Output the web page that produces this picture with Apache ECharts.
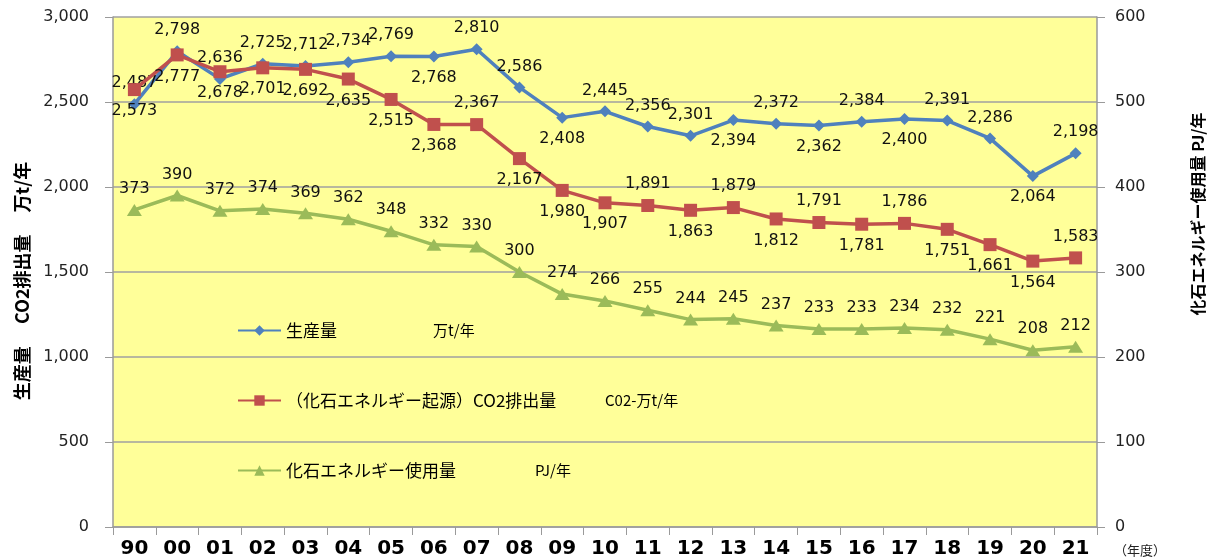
<!DOCTYPE html>
<html>
<head>
<meta charset="utf-8">
<script src="https://cdn.jsdelivr.net/npm/echarts@6/dist/echarts.min.js"></script>
<style>
  html, body { margin: 0; padding: 0; background: #fff; }
  #chart { width: 1213px; height: 560px; }
</style>
</head>
<body>
<div id="chart"></div>
<script>
// 年度
var years = ['90', '00', '01', '02', '03', '04', '05', '06', '07', '08', '09', '10',
  '11', '12', '13', '14', '15', '16', '17', '18', '19', '20', '21'];

// 生産量 万t/年
var production = [2487, 2798, 2636, 2725, 2712, 2734, 2769, 2768, 2810, 2586, 2408, 2445,
  2356, 2301, 2394, 2372, 2362, 2384, 2400, 2391, 2286, 2064, 2198];

// （化石エネルギー起源）CO2排出量 万t/年
var co2 = [2573, 2777, 2678, 2701, 2692, 2635, 2515, 2368, 2367, 2167, 1980, 1907,
  1891, 1863, 1879, 1812, 1791, 1781, 1786, 1751, 1661, 1564, 1583];

// 化石エネルギー使用量 PJ/年
var energy = [373, 390, 372, 374, 369, 362, 348, 332, 330, 300, 274, 266,
  255, 244, 245, 237, 233, 233, 234, 232, 221, 208, 212];

var seriesNames = ['生産量', '（化石エネルギー起源）CO2排出量', '化石エネルギー使用量'];
var seriesUnits = ['万t/年', 'C02-万t/年', 'PJ/年'];

var leftTicks = [0, 500, 1000, 1500, 2000, 2500, 3000];
var rightTicks = [0, 100, 200, 300, 400, 500, 600];

// ラベルの上下 (t=上, b=下)
var prodLabelPos = 'tttttttbttbtttbtbtbttbt';
var co2LabelPos = 'bbbbbbbbtbbbtbtbtbtbbbt';

var colors = ['#4F81BD', '#C0504D', '#9BBB59'];
var labelFont = 'DejaVu Sans, Verdana, sans-serif';
var jpFont = 'Noto Sans CJK JP, sans-serif';

function withLabelPos(values, pos) {
  return values.map(function (v, i) {
    return { value: v, label: { position: pos.charAt(i) === 't' ? 'top' : 'bottom' } };
  });
}

function fmtNum(p) {
  return p.value.toLocaleString('en-US');
}

var chart = echarts.init(document.getElementById('chart'));

var legendRich = {
  n0: { width: 147, fontSize: 17, fontFamily: jpFont, color: '#000' },
  n1: { width: 319, fontSize: 17, fontFamily: jpFont, color: '#000' },
  n2: { width: 249, fontSize: 17, fontFamily: jpFont, color: '#000' },
  u: { fontSize: 15, fontFamily: jpFont, color: '#000' }
};

function legendAt(idx, top) {
  return {
    data: [seriesNames[idx]],
    left: 232,
    top: top,
    itemWidth: 43,
    itemHeight: 13,
    selectedMode: false,
    formatter: function (name) {
      return '{n' + idx + '|' + name + '}{u|' + seriesUnits[idx] + '}';
    },
    textStyle: { rich: legendRich }
  };
}

var lineLabel = {
  show: true,
  distance: 7,
  fontSize: 16,
  fontFamily: labelFont,
  color: '#111'
};

var option = {
  animation: false,
  color: colors,
  grid: {
    left: 113,
    right: 116,
    top: 17,
    bottom: 33,
    show: true,
    backgroundColor: '#FFFF99',
    borderWidth: 0
  },
  legend: [legendAt(0, 317), legendAt(1, 387), legendAt(2, 457)],
  xAxis: {
    type: 'category',
    data: years,
    boundaryGap: true,
    axisLine: { lineStyle: { color: '#9a9a9a', width: 1.5 } },
    axisTick: { show: true, length: 8, lineStyle: { color: '#9a9a9a' } },
    axisLabel: {
      margin: 12,
      fontSize: 20,
      fontWeight: 'bold',
      fontFamily: 'DejaVu Sans, Verdana, sans-serif',
      color: '#000'
    }
  },
  yAxis: [
    {
      type: 'value',
      min: leftTicks[0],
      max: leftTicks[leftTicks.length - 1],
      interval: leftTicks[1] - leftTicks[0],
      position: 'left',
      axisLine: { show: true, lineStyle: { color: '#9a9a9a', width: 1.5 } },
      axisTick: { show: true, length: 8, lineStyle: { color: '#9a9a9a' } },
      splitLine: { show: true, lineStyle: { color: '#a0a0a0', width: 1.5 } },
      axisLabel: {
        margin: 24,
        fontSize: 16,
        fontFamily: labelFont,
        color: '#222',
        formatter: function (v) { return v.toLocaleString('en-US'); }
      }
    },
    {
      type: 'value',
      min: rightTicks[0],
      max: rightTicks[rightTicks.length - 1],
      interval: rightTicks[1] - rightTicks[0],
      position: 'right',
      axisLine: { show: true, lineStyle: { color: '#9a9a9a', width: 1.5 } },
      axisTick: { show: true, length: 8, lineStyle: { color: '#9a9a9a' } },
      splitLine: { show: false },
      axisLabel: {
        margin: 18,
        fontSize: 16,
        fontFamily: labelFont,
        color: '#222'
      }
    }
  ],
  graphic: [
    {
      type: 'text',
      x: 22,
      y: 281,
      rotation: Math.PI / 2,
      style: {
        text: '生産量　 CO2排出量　 万t/年',
        font: 'bold 18px Noto Sans CJK JP, sans-serif',
        fill: '#000',
        align: 'center',
        verticalAlign: 'middle'
      }
    },
    {
      type: 'text',
      x: 1198,
      y: 214,
      rotation: Math.PI / 2,
      style: {
        text: '化石エネルギー使用量 PJ/年',
        font: 'bold 16px Noto Sans CJK JP, sans-serif',
        fill: '#000',
        align: 'center',
        verticalAlign: 'middle'
      }
    },
    {
      type: 'text',
      x: 1140,
      y: 550,
      style: {
        text: '（年度）',
        font: '13px Noto Sans CJK JP, sans-serif',
        fill: '#222',
        align: 'center',
        verticalAlign: 'middle'
      }
    }
  ],
  series: [
    {
      name: seriesNames[0],
      type: 'line',
      yAxisIndex: 0,
      data: withLabelPos(production, prodLabelPos),
      symbol: 'diamond',
      symbolSize: 12,
      lineStyle: { width: 3.5, color: colors[0] },
      itemStyle: { color: colors[0] },
      label: Object.assign({ formatter: fmtNum }, lineLabel),
      z: 2
    },
    {
      name: seriesNames[1],
      type: 'line',
      yAxisIndex: 0,
      data: withLabelPos(co2, co2LabelPos),
      symbol: 'rect',
      symbolSize: 13,
      lineStyle: { width: 3.5, color: colors[1] },
      itemStyle: { color: colors[1] },
      label: Object.assign({ formatter: fmtNum }, lineLabel),
      z: 3
    },
    {
      name: seriesNames[2],
      type: 'line',
      yAxisIndex: 1,
      data: energy,
      symbol: 'triangle',
      symbolSize: [15, 12],
      lineStyle: { width: 3.5, color: colors[2] },
      itemStyle: { color: colors[2] },
      label: Object.assign({ position: 'top' }, lineLabel),
      z: 2
    }
  ]
};

chart.setOption(option);
</script>
</body>
</html>
